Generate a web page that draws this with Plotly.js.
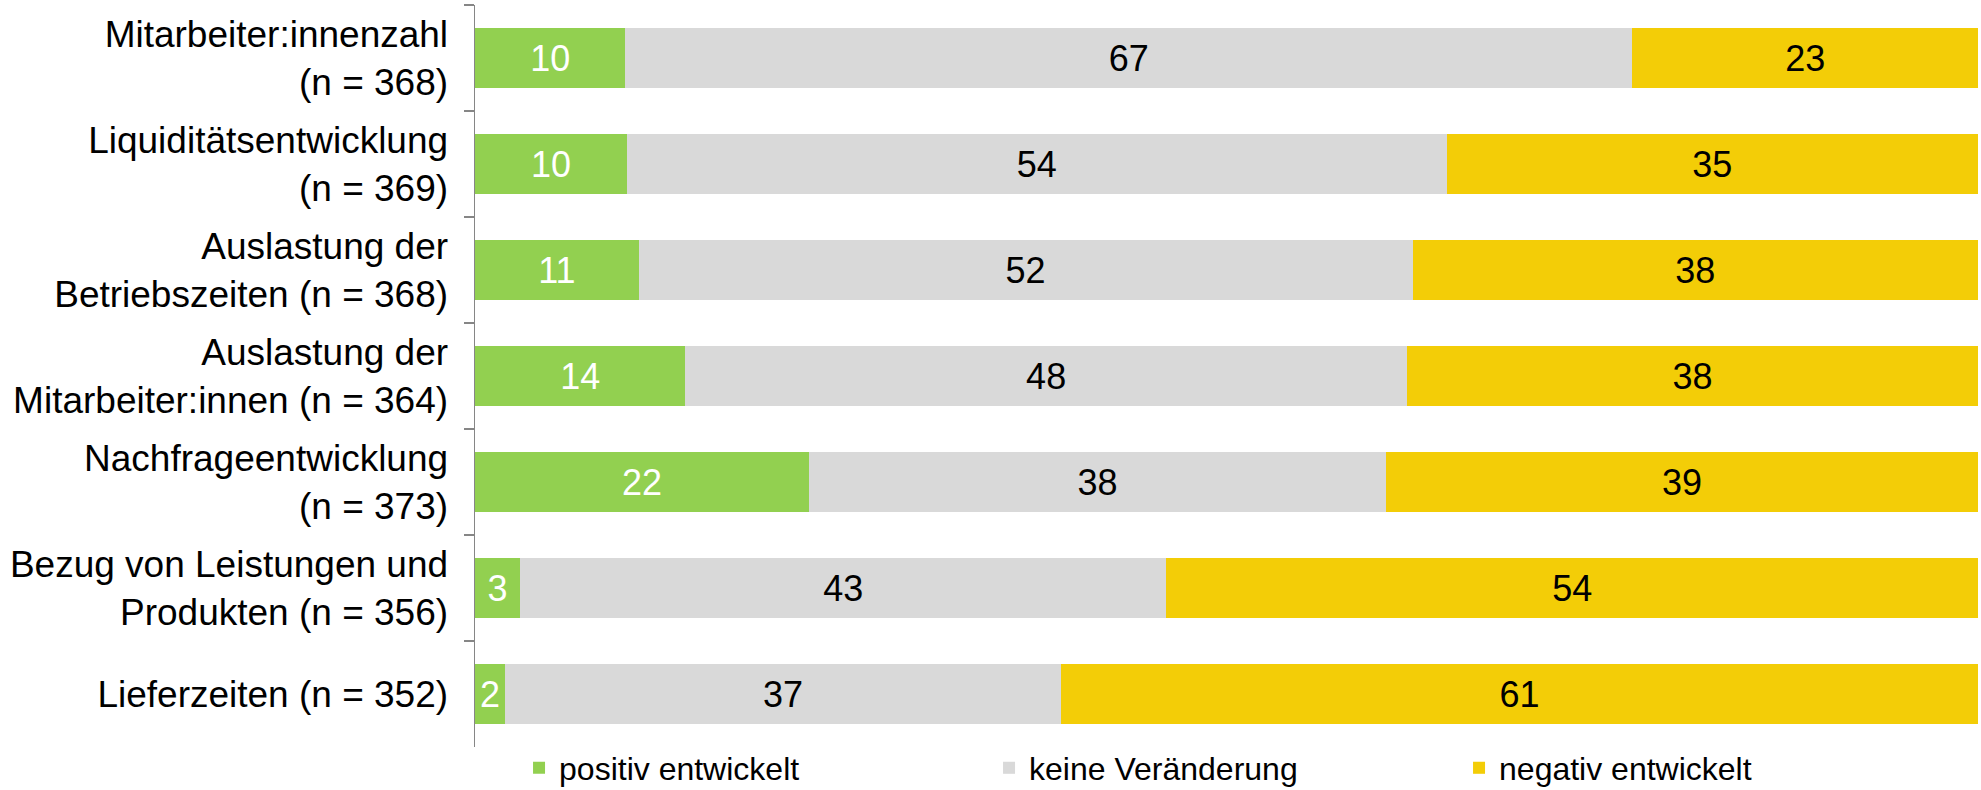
<!DOCTYPE html>
<html>
<head>
<meta charset="utf-8">
<script src="https://cdn.plot.ly/plotly-3.0.1.min.js"></script>
<style>html,body{margin:0;padding:0;background:#fff;}#chart{width:1981px;height:790px;}</style>
</head>
<body>
<div id="chart"></div>
<script>
const categories = [
  "Mitarbeiter:innenzahl<br>(n = 368)",
  "Liquiditätsentwicklung<br>(n = 369)",
  "Auslastung der<br>Betriebszeiten (n = 368)",
  "Auslastung der<br>Mitarbeiter:innen (n = 364)",
  "Nachfrageentwicklung<br>(n = 373)",
  "Bezug von Leistungen und<br>Produkten (n = 356)",
  "Lieferzeiten (n = 352)"
];
const positiv = [10, 10, 11, 14, 22, 3, 2];
const keine = [67, 54, 52, 48, 38, 43, 37];
const negativ = [23, 35, 38, 38, 39, 54, 61];
const seriesNames = ["positiv entwickelt", "keine Veränderung", "negativ entwickelt"];
const colors = ["#92D050", "#D9D9D9", "#F3CD07"];
const labelColors = ["#FFFFFF", "#000000", "#000000"];

const FONT = "Liberation Sans, Arial, sans-serif";
const seriesValues = [positiv, keine, negativ];
const traces = seriesValues.map((vals, i) => ({
  type: "bar",
  orientation: "h",
  name: seriesNames[i],
  y: categories,
  x: vals,
  text: vals.map(String),
  texttemplate: "%{text}",
  textposition: "inside",
  insidetextanchor: "middle",
  constraintext: "none",
  textfont: {family: FONT, size: 36, color: labelColors[i]},
  marker: {color: colors[i], line: {width: 0}},
  hoverinfo: "name+x"
}));

const layout = {
  width: 1981,
  height: 790,
  barmode: "stack",
  barnorm: "percent",
  bargap: 0.43,
  margin: {l: 475, r: 3, t: 5, b: 43, autoexpand: false},
  paper_bgcolor: "#fff",
  plot_bgcolor: "#fff",
  font: {family: FONT, size: 37, color: "#000"},
  xaxis: {range: [0, 100], visible: false, showgrid: false, zeroline: false, fixedrange: true},
  yaxis: {
    autorange: "reversed",
    type: "category",
    showline: true,
    linecolor: "#868686",
    linewidth: 1.5,
    ticks: "outside",
    tickson: "boundaries",
    ticklen: 10,
    tickcolor: "#868686",
    tickwidth: 1.5,
    ticklabelstandoff: 18,
    tickfont: {family: FONT, size: 37, color: "#000"},
    showgrid: false,
    zeroline: false,
    fixedrange: true
  },
  showlegend: true,
  legend: {
    orientation: "h",
    x: 0.0293,
    xanchor: "left",
    y: -0.0283,
    yanchor: "middle",
    font: {family: FONT, size: 32, color: "#000"},
    entrywidth: 425,
    entrywidthmode: "pixels",
    itemwidth: 30,
    traceorder: "normal",
    bgcolor: "rgba(0,0,0,0)"
  }
};

Plotly.newPlot("chart", traces, layout, {displayModeBar: false, staticPlot: true});
</script>
</body>
</html>
